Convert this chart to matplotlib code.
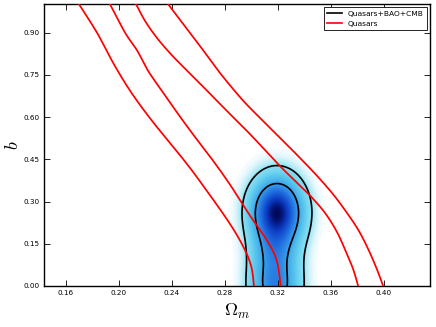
import numpy as np
import matplotlib
matplotlib.use("Agg")
import matplotlib.pyplot as plt
from matplotlib.colors import LinearSegmentedColormap
from matplotlib.lines import Line2D

plt.rcParams['mathtext.fontset'] = 'cm'
plt.rcParams['font.family'] = ['DejaVu Sans']

# Quasar-only confidence contour edges (Omega_m, b)
qa_om = [0.1686, 0.1700, 0.1836, 0.1960, 0.2090, 0.2250, 0.2485, 0.2614, 0.2825, 0.2940, 0.3000, 0.3021, 0.3022]
qa_b  = [1.010, 1.000, 0.899, 0.790, 0.690, 0.587, 0.451, 0.371, 0.231, 0.140, 0.070, 0.000, -0.010]
qb_om = [0.1922, 0.1934, 0.2048, 0.2140, 0.2220, 0.2330, 0.2463, 0.2590, 0.2712, 0.2840, 0.2991, 0.3117, 0.3192, 0.3223, 0.3224]
qb_b  = [1.010, 1.000, 0.899, 0.835, 0.765, 0.690, 0.601, 0.520, 0.445, 0.360, 0.250, 0.1635, 0.092, 0.000, -0.010]
qc_om = [0.2120, 0.2131, 0.2200, 0.2290, 0.2400, 0.2530, 0.2670, 0.2820, 0.2990, 0.3205, 0.3368, 0.3457, 0.3560, 0.3650, 0.3721, 0.3770, 0.3808, 0.3810]
qc_b  = [1.010, 1.000, 0.940, 0.880, 0.820, 0.758, 0.692, 0.620, 0.540, 0.432, 0.357, 0.315, 0.258, 0.190, 0.116, 0.060, 0.000, -0.010]
qd_om = [0.2360, 0.2374, 0.2463, 0.2563, 0.2664, 0.2765, 0.2928, 0.3060, 0.3217, 0.3368, 0.3500, 0.3620, 0.3720, 0.3808, 0.3880, 0.3945, 0.3997, 0.3999]
qd_b  = [1.010, 1.000, 0.945, 0.884, 0.820, 0.756, 0.664, 0.600, 0.527, 0.455, 0.390, 0.325, 0.262, 0.200, 0.135, 0.065, 0.000, -0.010]

# Quasars+BAO+CMB posterior: Gaussian mixture components
comp_mu_om = [0.3195, 0.3180, 0.3180]
comp_mu_b = [0.262, 0.130, 0.000]
comp_sig_om = [0.0108, 0.0100, 0.0104]
comp_sig_b = [0.068, 0.060, 0.070]
comp_w = [1.0, 0.30, 0.45]
conf_levels = [np.exp(-3.0), np.exp(-1.15)]   # 95% and 68% (relative to peak)

xticks = [0.16, 0.20, 0.24, 0.28, 0.32, 0.36, 0.40]
yticks = [0.00, 0.15, 0.30, 0.45, 0.60, 0.75, 0.90]


def smooth(xs, ys, sx=4.7, n=20):
    """Catmull-Rom curve through the given points (rendering only)."""
    p = np.column_stack([np.asarray(xs) * sx, np.asarray(ys)])
    p = np.vstack([2 * p[0] - p[1], p, 2 * p[-1] - p[-2]])
    out = []
    t = np.linspace(0, 1, n, endpoint=False)[:, None]
    for i in range(1, len(p) - 2):
        p0, p1, p2, p3 = p[i - 1], p[i], p[i + 1], p[i + 2]
        c = 0.5 * ((2 * p1) + (-p0 + p2) * t + (2 * p0 - 5 * p1 + 4 * p2 - p3) * t ** 2
                   + (-p0 + 3 * p1 - 3 * p2 + p3) * t ** 3)
        out.append(c)
    out.append(p[-2][None, :])
    out = np.vstack(out)
    return out[:, 0] / sx, out[:, 1]


fig = plt.figure(figsize=(4.36, 3.27), dpi=100)
ax = fig.add_axes([0.101, 0.1254, 0.885, 0.861])

om = np.linspace(0.143, 0.435, 700)
bb = np.linspace(0.0, 1.0, 700)
OM, BB = np.meshgrid(om, bb)
P = np.zeros_like(OM)
for mo, mb, so, sb, w in zip(comp_mu_om, comp_mu_b, comp_sig_om, comp_sig_b, comp_w):
    P += w * np.exp(-0.5 * (((OM - mo) / so) ** 2 + ((BB - mb) / sb) ** 2))
P /= P.max()

cmap = LinearSegmentedColormap.from_list("qb", [
    (0.0, "#ffffff"), (0.005, "#f0fbfe"), (0.02, "#c8f0f8"), (0.05, "#8adff2"),
    (0.15, "#5ac9ee"), (0.33, "#3a9ee8"), (0.55, "#1e6ae0"), (0.8, "#0a36bc"),
    (1.0, "#00085a")])
ax.imshow(P, origin='lower', extent=[om[0], om[-1], bb[0], bb[-1]],
          cmap=cmap, aspect='auto', interpolation='bilinear', zorder=0)
ax.contour(OM, BB, P, levels=conf_levels, colors='black', linewidths=1.2, zorder=2)

for xo, yb in [(qa_om, qa_b), (qb_om, qb_b), (qc_om, qc_b), (qd_om, qd_b)]:
    sx, sy = smooth(xo, yb)
    ax.plot(sx, sy, color='red', lw=1.25, zorder=3)

ax.set_xlim(0.1435, 0.435)
ax.set_ylim(0.0, 1.0)
ax.set_xticks(xticks)
ax.set_yticks(yticks)
ax.set_xticklabels(["%.2f" % v for v in xticks])
ax.set_yticklabels(["%.2f" % v for v in yticks])
ax.tick_params(direction='in', top=True, right=True, length=4, width=0.6,
               labelsize=5.2, pad=3)
for s in ax.spines.values():
    s.set_linewidth(1.0)

ax.set_xlabel(r'$\Omega_m$', fontsize=13, labelpad=4)
ax.set_ylabel(r'$b$', fontsize=13, labelpad=1)

handles = [Line2D([], [], color='black', lw=1.2), Line2D([], [], color='red', lw=1.2)]
leg = ax.legend(handles, ['Quasars+BAO+CMB', 'Quasars'], loc='upper right',
                fontsize=5.4, fancybox=False, framealpha=1, edgecolor='black',
                borderaxespad=0.4, handlelength=2.0)
leg.get_frame().set_linewidth(0.6)

fig.savefig("out.png", dpi=100)
